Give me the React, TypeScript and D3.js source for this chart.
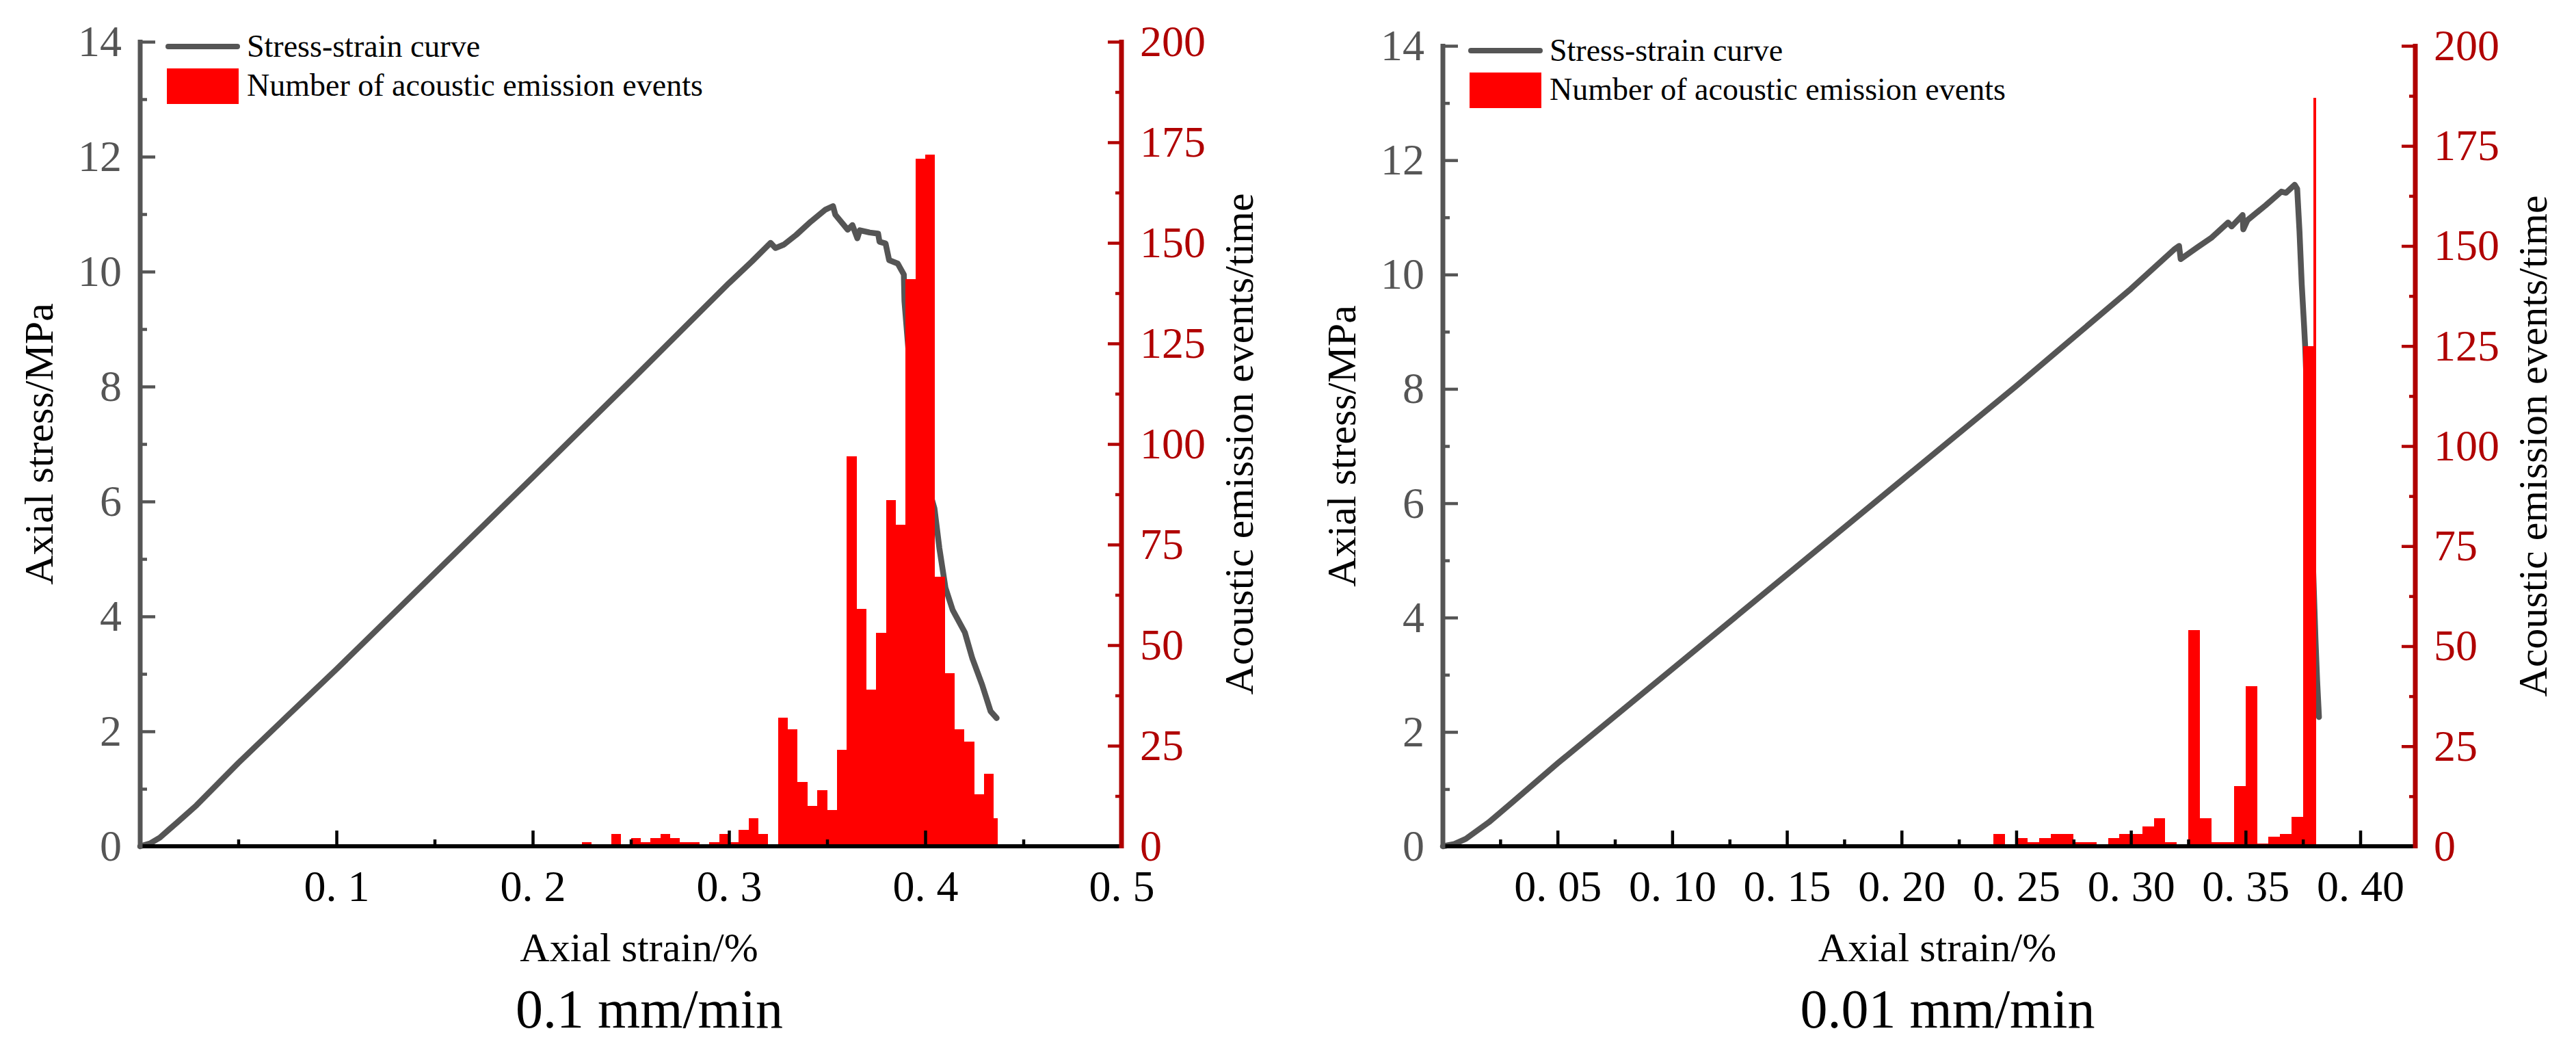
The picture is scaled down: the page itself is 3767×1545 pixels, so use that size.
import React, { useEffect, useRef } from "react";
import * as d3 from "d3";

// ---- 0.1 mm/min panel ----
const leftCurveStrain = [
  0, 0.005, 0.01, 0.015, 0.02, 0.0286, 0.05, 0.076, 0.1, 0.15, 0.2, 0.25, 0.3,
  0.3118, 0.3212, 0.3237, 0.328, 0.3343, 0.3417, 0.3492, 0.353, 0.3542, 0.3605,
  0.3629, 0.3654, 0.3667, 0.3717, 0.376, 0.3767, 0.3798, 0.3816, 0.386, 0.3891,
  0.3894, 0.392, 0.397, 0.402, 0.4047, 0.4072, 0.4103, 0.414, 0.4202, 0.424,
  0.429, 0.4333, 0.4364,
];
const leftCurveStress = [
  0, 0.05, 0.15, 0.3, 0.45, 0.71, 1.45, 2.3, 3.08, 4.75, 6.42, 8.1, 9.8, 10.18,
  10.5, 10.41, 10.47, 10.64, 10.87, 11.08, 11.14, 10.99, 10.73, 10.81, 10.58,
  10.72, 10.68, 10.66, 10.52, 10.49, 10.2, 10.14, 9.95, 9.49, 8.4, 7.0, 6.2,
  5.88, 5.19, 4.5, 4.11, 3.72, 3.27, 2.81, 2.35, 2.23,
];
const leftBinStart = [
  0.225, 0.24, 0.25, 0.255, 0.26, 0.265, 0.27, 0.275, 0.28, 0.29, 0.295, 0.3,
  0.305, 0.31, 0.315, 0.325, 0.33, 0.335, 0.34, 0.345, 0.35, 0.355, 0.36, 0.365,
  0.37, 0.375, 0.38, 0.385, 0.39, 0.395, 0.4, 0.405, 0.41, 0.415, 0.42, 0.425,
  0.43, 0.435,
];
const leftBinCount = [
  1, 3, 2, 1, 2, 3, 2, 1, 1, 1, 3, 1, 4, 7, 3, 32, 29, 16, 10, 14, 9, 24, 97,
  59, 39, 53, 86, 80, 141, 171, 172, 67, 43, 29, 26, 13, 18, 7,
];
const leftStrainEnd = 0.437;
const leftStrainTicks = [0.1, 0.2, 0.3, 0.4, 0.5];
const leftStrainMinor = [0.05, 0.15, 0.25, 0.35, 0.45];

// ---- 0.01 mm/min panel ----
const rightCurveStrain = [
  0, 0.005, 0.01, 0.02, 0.03, 0.05, 0.1, 0.15, 0.2, 0.25, 0.3, 0.3192, 0.321,
  0.3217, 0.3291, 0.335, 0.3424, 0.3439, 0.3487, 0.349, 0.3508, 0.3587, 0.3656,
  0.3676, 0.3714, 0.3725, 0.3735, 0.3745, 0.3755, 0.376, 0.3785, 0.3805, 0.3812,
  0.382,
];
const rightCurveStress = [
  0, 0.04, 0.13, 0.42, 0.76, 1.45, 3.1, 4.75, 6.4, 8.05, 9.75, 10.45, 10.5,
  10.27, 10.48, 10.64, 10.91, 10.84, 11.04, 10.79, 10.95, 11.21, 11.45, 11.43,
  11.57, 11.5, 10.76, 9.82, 9.11, 8.73, 6.0, 3.6, 2.9, 2.26,
];
const rightBinStart = [
  0.24, 0.25, 0.255, 0.26, 0.265, 0.27, 0.275, 0.28, 0.29, 0.295, 0.3, 0.305,
  0.31, 0.315, 0.325, 0.33, 0.335, 0.34, 0.345, 0.35, 0.355, 0.36, 0.365, 0.37,
  0.375,
];
const rightBinCount = [
  3, 2, 1, 2, 3, 3, 1, 1, 2, 3, 3, 5, 7, 1, 54, 7, 1, 1, 15, 40, 0.7, 2.4, 3,
  7.3, 125,
];
const rightStrainEnd = 0.382;
const rightSpikeStrain = [0.3796];
const rightSpikeCount = [187];
const rightStrainTicks = [0.05, 0.1, 0.15, 0.2, 0.25, 0.3, 0.35, 0.4];
const rightStrainMinor = [
  0.025, 0.075, 0.125, 0.175, 0.225, 0.275, 0.325, 0.375,
];

const stressTicks = [0, 2, 4, 6, 8, 10, 12, 14];
const stressMinor = [1, 3, 5, 7, 9, 11, 13];
const eventTicks = [0, 25, 50, 75, 100, 125, 150, 175, 200];
const eventMinor = [12.5, 37.5, 62.5, 87.5, 112.5, 137.5, 162.5, 187.5];

const FONT = "'Liberation Serif', 'Times New Roman', serif";
const GREY = "#555555";
const DARK_RED = "#b00000";
const BAR_RED = "#ff0000";
const BIN_W = 0.005;

type Panel = {
  x0: number;
  x1: number;
  yTop: number;
  yBot: number;
  strainMax: number;
  strainTicks: number[];
  strainMinor: number[];
  fmt: string;
  curveStrain: number[];
  curveStress: number[];
  binStart: number[];
  binCount: number[];
  strainEnd: number;
  spikeStrain: number[];
  spikeCount: number[];
  title: string;
};

const panels: Panel[] = [
  {
    x0: 205,
    x1: 1640,
    yTop: 61,
    yBot: 1237,
    strainMax: 0.5,
    strainTicks: leftStrainTicks,
    strainMinor: leftStrainMinor,
    fmt: ".1f",
    curveStrain: leftCurveStrain,
    curveStress: leftCurveStress,
    binStart: leftBinStart,
    binCount: leftBinCount,
    strainEnd: leftStrainEnd,
    spikeStrain: [],
    spikeCount: [],
    title: "0.1 mm/min",
  },
  {
    x0: 2110,
    x1: 3532,
    yTop: 67,
    yBot: 1237,
    strainMax: 0.424,
    strainTicks: rightStrainTicks,
    strainMinor: rightStrainMinor,
    fmt: ".2f",
    curveStrain: rightCurveStrain,
    curveStress: rightCurveStress,
    binStart: rightBinStart,
    binCount: rightBinCount,
    strainEnd: rightStrainEnd,
    spikeStrain: rightSpikeStrain,
    spikeCount: rightSpikeCount,
    title: "0.01 mm/min",
  },
];

const drawPanel = (
  svg: d3.Selection<SVGSVGElement, unknown, null, undefined>,
  p: Panel
) => {
  const g = svg.append("g");
  const x = d3.scaleLinear().domain([0, p.strainMax]).range([p.x0, p.x1]);
  const yL = d3.scaleLinear().domain([0, 14]).range([p.yBot, p.yTop]);
  const yR = d3.scaleLinear().domain([0, 200]).range([p.yBot, p.yTop]);

  // stress-strain curve (under the bars)
  const pts = p.curveStrain.map((s, i) => [s, p.curveStress[i]] as [number, number]);
  g.append("path")
    .datum(pts)
    .attr("fill", "none")
    .attr("stroke", GREY)
    .attr("stroke-width", 8.5)
    .attr("stroke-linejoin", "round")
    .attr("stroke-linecap", "round")
    .attr(
      "d",
      d3
        .line<[number, number]>()
        .x((d) => x(d[0]))
        .y((d) => yL(d[1]))
    );

  // acoustic emission histogram
  const bars = p.binStart.map((s, i) => ({
    a: s,
    b: Math.min(s + BIN_W, p.strainEnd),
    v: p.binCount[i],
  }));
  p.spikeStrain.forEach((s, i) =>
    bars.push({ a: s, b: s + 0.0012, v: p.spikeCount[i] })
  );
  g.append("g")
    .attr("shape-rendering", "crispEdges")
    .selectAll("rect")
    .data(bars)
    .join("rect")
    .attr("x", (d) => x(d.a))
    .attr("width", (d) => x(d.b) - x(d.a))
    .attr("y", (d) => yR(d.v))
    .attr("height", (d) => p.yBot - yR(d.v))
    .attr("fill", BAR_RED);

  const styleTicks = (
    sel: d3.Selection<SVGGElement, unknown, null, undefined>,
    color: string,
    fill: string
  ) => {
    sel.select(".domain").remove();
    sel.selectAll(".tick line").attr("stroke", color).attr("stroke-width", 4.5);
    sel
      .selectAll(".tick text")
      .attr("fill", fill)
      .attr("font-family", FONT)
      .attr("font-size", 64);
  };

  // bottom axis
  const fmt = d3.format(p.fmt);
  g.append("g")
    .attr("transform", `translate(0,${p.yBot})`)
    .call(d3.axisBottom(x).tickValues(p.strainMinor).tickSize(-10).tickFormat(() => ""))
    .call((s) => styleTicks(s, "#000", "#000"));
  g.append("g")
    .attr("transform", `translate(0,${p.yBot})`)
    .call(
      d3
        .axisBottom(x)
        .tickValues(p.strainTicks)
        .tickSize(-23)
        .tickPadding(35)
        .tickFormat((d) => fmt(d as number).replace(".", ". "))
    )
    .call((s) => styleTicks(s, "#000", "#000"));

  // left axis (stress)
  g.append("g")
    .attr("transform", `translate(${p.x0},0)`)
    .call(d3.axisLeft(yL).tickValues(stressMinor).tickSize(-10).tickFormat(() => ""))
    .call((s) => styleTicks(s, GREY, GREY));
  g.append("g")
    .attr("transform", `translate(${p.x0},0)`)
    .call(d3.axisLeft(yL).tickValues(stressTicks).tickSize(-22).tickPadding(27))
    .call((s) => styleTicks(s, GREY, GREY));

  // right axis (events)
  g.append("g")
    .attr("transform", `translate(${p.x1},0)`)
    .call(d3.axisRight(yR).tickValues(eventMinor).tickSize(-9).tickFormat(() => ""))
    .call((s) => styleTicks(s, DARK_RED, DARK_RED));
  g.append("g")
    .attr("transform", `translate(${p.x1},0)`)
    .call(d3.axisRight(yR).tickValues(eventTicks).tickSize(-20).tickPadding(27))
    .call((s) => styleTicks(s, DARK_RED, DARK_RED));

  // axis lines
  g.append("line")
    .attr("x1", p.x0)
    .attr("x2", p.x1)
    .attr("y1", p.yBot)
    .attr("y2", p.yBot)
    .attr("stroke", "#000")
    .attr("stroke-width", 6);
  g.append("line")
    .attr("x1", p.x0)
    .attr("x2", p.x0)
    .attr("y1", p.yTop - 3)
    .attr("y2", p.yBot + 3)
    .attr("stroke", GREY)
    .attr("stroke-width", 7);
  g.append("line")
    .attr("x1", p.x1)
    .attr("x2", p.x1)
    .attr("y1", p.yTop - 3)
    .attr("y2", p.yBot + 3)
    .attr("stroke", DARK_RED)
    .attr("stroke-width", 7);

  // axis titles
  const midY = (p.yTop + p.yBot) / 2;
  const midX = (p.x0 + p.x1) / 2;
  g.append("text")
    .attr("transform", `translate(${p.x0 - 128},${midY}) rotate(-90)`)
    .attr("text-anchor", "middle")
    .attr("font-family", FONT)
    .attr("font-size", 60)
    .text("Axial stress/MPa");
  g.append("text")
    .attr("transform", `translate(${p.x1 + 192},${midY}) rotate(-90)`)
    .attr("text-anchor", "middle")
    .attr("font-family", FONT)
    .attr("font-size", 60)
    .text("Acoustic emission events/time");
  g.append("text")
    .attr("x", midX + 12)
    .attr("y", 1405)
    .attr("text-anchor", "middle")
    .attr("font-family", FONT)
    .attr("font-size", 60)
    .text("Axial strain/%");
  g.append("text")
    .attr("x", midX + 27)
    .attr("y", 1502)
    .attr("text-anchor", "middle")
    .attr("font-family", FONT)
    .attr("font-size", 80)
    .text(p.title);

  // legend
  const ly = p.yTop - 61;
  g.append("line")
    .attr("x1", p.x0 + 41)
    .attr("x2", p.x0 + 142)
    .attr("y1", ly + 68)
    .attr("y2", ly + 68)
    .attr("stroke", GREY)
    .attr("stroke-width", 8)
    .attr("stroke-linecap", "round");
  g.append("text")
    .attr("x", p.x0 + 156)
    .attr("y", ly + 83)
    .attr("font-family", FONT)
    .attr("font-size", 46)
    .text("Stress-strain curve");
  g.append("rect")
    .attr("x", p.x0 + 39)
    .attr("y", ly + 100)
    .attr("width", 105)
    .attr("height", 52)
    .attr("fill", BAR_RED);
  g.append("text")
    .attr("x", p.x0 + 156)
    .attr("y", ly + 140)
    .attr("font-family", FONT)
    .attr("font-size", 46)
    .text("Number of acoustic emission events");
};

const App: React.FC = () => {
  const svgRef = useRef<SVGSVGElement | null>(null);

  useEffect(() => {
    const svg = d3.select(svgRef.current as SVGSVGElement);
    svg.selectAll("*").remove();
    svg
      .append("rect")
      .attr("width", 3767)
      .attr("height", 1545)
      .attr("fill", "#fff");
    panels.forEach((p) => drawPanel(svg, p));
  }, []);

  return (
    <svg
      ref={svgRef}
      width={3767}
      height={1545}
      viewBox="0 0 3767 1545"
      style={{ position: "absolute", left: 0, top: 0, display: "block" }}
    />
  );
};

export default App;
